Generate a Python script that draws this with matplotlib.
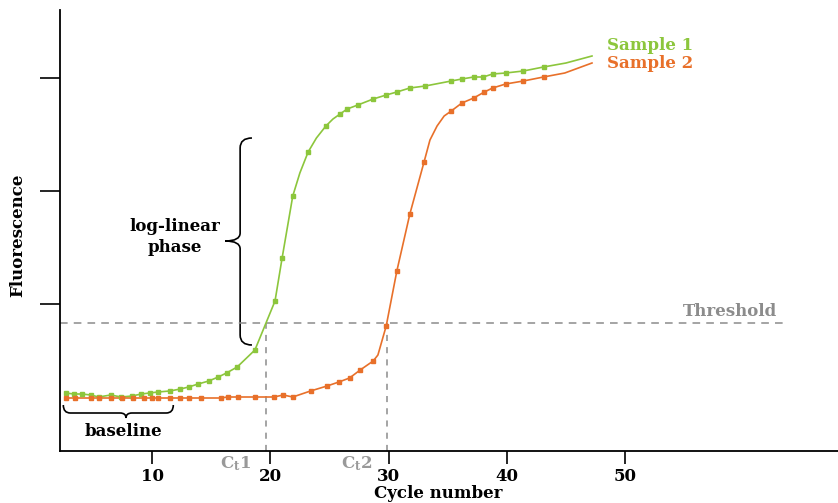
import matplotlib
matplotlib.use("Agg")
import matplotlib.pyplot as plt
from matplotlib.path import Path
from matplotlib.patches import PathPatch

plt.rcParams['font.family'] = ['DejaVu Serif']
plt.rcParams['font.weight'] = 'bold'
plt.rcParams['mathtext.fontset'] = 'custom'
plt.rcParams['mathtext.rm'] = 'DejaVu Serif:bold'
plt.rcParams['mathtext.it'] = 'DejaVu Serif:bold'

# ---- data ----
# measured points (square markers)
s1_cycles = [2.7, 3.4, 4.1, 4.8, 5.5, 6.5, 7.4, 8.3, 9.1, 9.8, 10.5, 11.5, 12.4, 13.1,
             13.9, 14.8, 15.6, 16.3, 17.2, 18.7, 20.4, 21.0, 21.9, 23.2, 24.7, 25.9,
             26.5, 27.4, 28.7, 29.8, 30.7, 31.8, 33.1, 35.3, 36.2, 37.2, 38.0, 38.8,
             39.9, 41.4, 43.1]
s1_values = [5.8, 5.7, 5.7, 5.6, 5.4, 5.6, 5.4, 5.5, 5.7, 5.8, 5.9, 6.0, 6.2, 6.4,
             6.7, 7.0, 7.4, 7.8, 8.4, 10.1, 15.0, 19.3, 25.5, 29.9, 32.5, 33.7,
             34.2, 34.6, 35.2, 35.6, 35.9, 36.3, 36.5, 37.0, 37.2, 37.4, 37.4, 37.7,
             37.8, 38.0, 38.4]
# additional points (line only)
s1_trace_cycles = [22.5, 23.9, 25.3, 45.0, 47.2]
s1_trace_values = [27.8, 31.3, 33.2, 38.8, 39.5]

s2_cycles = [2.7, 3.5, 4.8, 5.5, 6.5, 7.5, 8.4, 9.3, 10.0, 10.5, 11.5, 12.4, 13.1,
             14.1, 15.8, 16.4, 17.3, 18.7, 20.3, 21.1, 21.9, 23.4, 24.8, 25.8, 26.7,
             27.6, 28.7, 29.8, 30.7, 31.8, 33.0, 35.3, 36.2, 37.2, 38.1, 38.8, 39.9,
             41.4, 43.1]
s2_values = [5.3, 5.3, 5.3, 5.3, 5.3, 5.3, 5.3, 5.3, 5.3, 5.3, 5.3, 5.3, 5.3,
             5.3, 5.3, 5.4, 5.4, 5.4, 5.4, 5.6, 5.4, 6.0, 6.5, 6.9, 7.3,
             8.1, 9.0, 12.5, 18.0, 23.7, 28.9, 34.0, 34.8, 35.3, 35.9, 36.3, 36.7,
             37.0, 37.4]
s2_trace_cycles = [29.1, 33.5, 34.1, 34.7, 44.9, 47.2]
s2_trace_values = [9.6, 31.1, 32.5, 33.5, 37.8, 38.8]

threshold = 12.8
ct1 = 19.6
ct2 = 29.9
x_ticks = [10, 20, 30, 40, 50]
x_tick_labels = ['10', '20', '30', '40', '50']
y_ticks = [14.7, 26.0, 37.3]
series_names = ['Sample 1', 'Sample 2']

green = '#8cc63c'
orange = '#e8702a'
grey = '#8c8c8c'

W, H = 838, 503
fig = plt.figure(figsize=(W / 100, H / 100), dpi=100)
ax = fig.add_axes([60 / W, (H - 451) / H, (W - 60) / W, (451 - 10) / H])
ax.set_xlim(2.22, 68.0)
ax.set_ylim(0, 44.1)

for s in ['top', 'right']:
    ax.spines[s].set_visible(False)
for s in ['left', 'bottom']:
    ax.spines[s].set_linewidth(1.3)

ax.set_xticks(x_ticks)
ax.set_xticklabels(x_tick_labels, fontsize=12, fontweight='bold')
ax.set_yticks(y_ticks)
ax.set_yticklabels([])
ax.tick_params(axis='x', direction='out', length=9.5, width=1.2, pad=3)
ax.tick_params(axis='y', direction='out', length=14.5, width=1.2)


def curve(xs, ys, txs, tys):
    pts = sorted(zip(list(xs) + list(txs), list(ys) + list(tys)))
    return [p[0] for p in pts], [p[1] for p in pts]


lx, ly = curve(s1_cycles, s1_values, s1_trace_cycles, s1_trace_values)
ax.plot(lx, ly, color=green, lw=1.2, zorder=3)
ax.plot(s1_cycles, s1_values, ls='none', marker='s', ms=3.0, color=green, zorder=4)

lx, ly = curve(s2_cycles, s2_values, s2_trace_cycles, s2_trace_values)
ax.plot(lx, ly, color=orange, lw=1.2, zorder=3)
ax.plot(s2_cycles, s2_values, ls='none', marker='s', ms=3.0, color=orange, zorder=4)

# threshold + Ct lines
ax.plot([2.22, 63.5], [threshold, threshold], color=grey, lw=1.1, ls=(0, (5, 4)), zorder=2)
ax.plot([ct1, ct1], [0, threshold], color=grey, lw=1.1, ls=(0, (4, 4)), zorder=2)
ax.plot([ct2, ct2], [0, threshold], color=grey, lw=1.1, ls=(0, (4, 4)), zorder=2)

ax.text(54.9, 13.9, 'Threshold', color=grey, fontsize=12, fontweight='bold',
        ha='left', va='center')
ax.text(18.4, -1.3, r'C$_{\mathrm{t}}$1', color='#999999', fontsize=12, ha='right',
        va='center', clip_on=False)
ax.text(28.6, -1.3, r'C$_{\mathrm{t}}$2', color='#999999', fontsize=12, ha='right',
        va='center', clip_on=False)

ax.text(48.5, 40.6, series_names[0], color=green, fontsize=12, fontweight='bold',
        ha='left', va='center')
ax.text(48.5, 38.8, series_names[1], color=orange, fontsize=12, fontweight='bold',
        ha='left', va='center')

ax.text(11.9, 21.4, 'log-linear\nphase', fontsize=12, fontweight='bold', ha='center',
        va='center', linespacing=1.25)
ax.text(7.6, 1.9, 'baseline', fontsize=12, fontweight='bold', ha='center', va='center')


# braces
def vbrace(ax, xb, xt, xe, ytop, ybot, ymid, d, d2):
    verts = [(xe, ytop), (xb, ytop), (xb, ytop - d),
             (xb, ymid + d2), (xb, ymid), (xt, ymid),
             (xb, ymid), (xb, ymid - d2),
             (xb, ybot + d), (xb, ybot), (xe, ybot)]
    codes = [Path.MOVETO, Path.CURVE3, Path.CURVE3,
             Path.LINETO, Path.CURVE3, Path.CURVE3,
             Path.CURVE3, Path.CURVE3,
             Path.LINETO, Path.CURVE3, Path.CURVE3]
    ax.add_patch(PathPatch(Path(verts, codes), fill=False, lw=1.2, color='black'))


def hbrace(ax, yb, yt, ye, xl, xr, xmid, d, d2):
    verts = [(xl, ye), (xl, yb), (xl + d, yb),
             (xmid - d2, yb), (xmid, yb), (xmid, yt),
             (xmid, yb), (xmid + d2, yb),
             (xr - d, yb), (xr, yb), (xr, ye)]
    codes = [Path.MOVETO, Path.CURVE3, Path.CURVE3,
             Path.LINETO, Path.CURVE3, Path.CURVE3,
             Path.CURVE3, Path.CURVE3,
             Path.LINETO, Path.CURVE3, Path.CURVE3]
    ax.add_patch(PathPatch(Path(verts, codes), fill=False, lw=1.2, color='black'))


vbrace(ax, 17.45, 16.2, 18.45, 31.3, 10.6, 21.0, 1.0, 0.8)
hbrace(ax, 3.8, 3.3, 4.6, 2.5, 11.8, 7.8, 0.6, 0.5)

ax.set_xlabel('Cycle number', fontsize=12, fontweight='bold')
ax.xaxis.set_label_coords((438 - 60) / 778, (451 - 493) / 441)
ax.xaxis.label.set_va('center')
ax.set_ylabel('Fluorescence', fontsize=12, fontweight='bold')
ax.yaxis.set_label_coords((18 - 60) / 778, (451 - 235) / 441)
ax.yaxis.label.set_va('center')

fig.savefig('out.png', dpi=100)
